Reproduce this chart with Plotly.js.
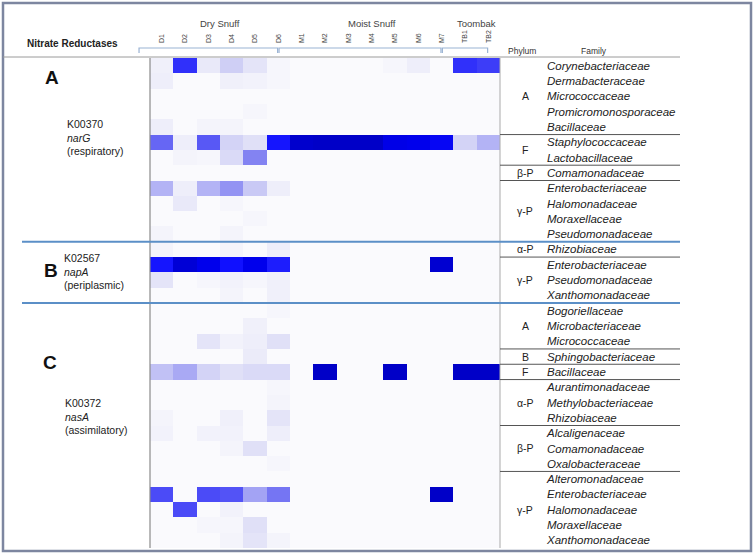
<!DOCTYPE html>
<html>
<head>
<meta charset="utf-8">
<script src="https://cdn.plot.ly/plotly-3.0.1.min.js"></script>
<style>
  body { margin: 0; background: #fff; }
  #chart { width: 755px; height: 554px; }
</style>
</head>
<body>
<div id="chart"></div>
<script>
// Columns (samples)
const samples = ['D1','D2','D3','D4','D5','D6','M1','M2','M3','M4','M5','M6','M7','TB1','TB2'];
const sampleGroups = [
    { name: 'Dry Snuff', first: 0, last: 5 },
    { name: 'Moist Snuff', first: 6, last: 12 },
    { name: 'Toombak', first: 13, last: 14 }
];

// Rows (families) per gene
const familiesA = ['Corynebacteriaceae','Dermabacteraceae','Micrococcaceae','Promicromonosporaceae','Bacillaceae',
    'Staphylococcaceae','Lactobacillaceae','Comamonadaceae','Enterobacteriaceae','Halomonadaceae','Moraxellaceae','Pseudomonadaceae'];
const familiesB = ['Rhizobiaceae','Enterobacteriaceae','Pseudomonadaceae','Xanthomonadaceae'];
const familiesC = ['Bogoriellaceae','Microbacteriaceae','Micrococcaceae','Sphingobacteriaceae','Bacillaceae',
    'Aurantimonadaceae','Methylobacteriaceae','Rhizobiaceae','Alcaligenaceae','Comamonadaceae','Oxalobacteraceae',
    'Alteromonadaceae','Enterobacteriaceae','Halomonadaceae','Moraxellaceae','Xanthomonadaceae'];

// Relative abundance (0..1), D1..D6, M1..M7, TB1, TB2
const narG = [
    [0.05,0.75,0.08,0.20,0.10,0.02, 0,0,0,0,0.02,0.06,0, 0.75,0.70],
    [0.06,0,0,0.05,0.04,0.02, 0,0,0,0,0,0,0, 0,0],
    [0,0,0,0,0,0, 0,0,0,0,0,0,0, 0,0],
    [0,0,0,0,0.02,0, 0,0,0,0,0,0,0, 0,0],
    [0.06,0,0.03,0.03,0,0, 0,0,0,0,0,0,0, 0,0],
    [0.55,0.06,0.60,0.18,0.12,0.85, 0.99,1,1,1,0.93,0.92,0.90, 0.18,0.30],
    [0,0.03,0.02,0.15,0.45,0, 0,0,0,0,0,0,0, 0,0],
    [0,0,0,0,0,0, 0,0,0,0,0,0,0, 0,0],
    [0.30,0.06,0.30,0.40,0.22,0.06, 0,0,0,0,0,0,0, 0,0],
    [0,0.08,0,0.02,0,0, 0,0,0,0,0,0,0, 0,0],
    [0,0,0,0,0.02,0, 0,0,0,0,0,0,0, 0,0],
    [0.03,0,0,0.03,0,0, 0,0,0,0,0,0,0, 0,0]
];
const napA = [
    [0.03,0,0,0.03,0,0.06, 0,0,0,0,0,0,0, 0,0],
    [0.85,0.97,0.92,0.87,0.92,0.82, 0,0,0,0,0,0,0.98, 0,0],
    [0.10,0,0.02,0.04,0.02,0.05, 0,0,0,0,0,0,0, 0,0],
    [0,0,0,0.03,0,0.05, 0,0,0,0,0,0,0, 0,0]
];
const nasA = [
    [0,0,0,0,0,0.02, 0,0,0,0,0,0,0, 0,0],
    [0,0,0,0,0.05,0, 0,0,0,0,0,0,0, 0,0],
    [0,0,0.10,0.04,0.06,0.12, 0,0,0,0,0,0,0, 0,0],
    [0,0,0,0,0.07,0, 0,0,0,0,0,0,0, 0,0],
    [0.25,0.33,0.18,0.12,0.15,0.15, 0,1,0,0,1,0,0, 1,1],
    [0,0,0,0,0,0.02, 0,0,0,0,0,0,0, 0,0],
    [0,0,0,0,0,0.03, 0,0,0,0,0,0,0, 0,0],
    [0.03,0,0,0.05,0,0.10, 0,0,0,0,0,0,0, 0,0],
    [0.04,0,0.04,0.04,0,0.06, 0,0,0,0,0,0,0, 0,0],
    [0,0,0,0.03,0.12,0, 0,0,0,0,0,0,0, 0,0],
    [0,0,0,0,0,0.02, 0,0,0,0,0,0,0, 0,0],
    [0,0,0,0,0,0, 0,0,0,0,0,0,0, 0,0],
    [0.65,0,0.65,0.62,0.35,0.50, 0,0,0,0,0,0,1, 0,0],
    [0,0.65,0,0.04,0,0, 0,0,0,0,0,0,0, 0,0],
    [0,0,0.02,0.02,0.12,0, 0,0,0,0,0,0,0, 0,0],
    [0,0,0,0.03,0.10,0.03, 0,0,0,0,0,0,0, 0,0]
];

// Phylum groups (row index ranges over the full table)
const phyla = [
    { label: 'A', first: 0, last: 4 },
    { label: 'F', first: 5, last: 6 },
    { label: 'β-P', first: 7, last: 7 },
    { label: 'γ-P', first: 8, last: 11 },
    { label: 'α-P', first: 12, last: 12 },
    { label: 'γ-P', first: 13, last: 15 },
    { label: 'A', first: 16, last: 18 },
    { label: 'B', first: 19, last: 19 },
    { label: 'F', first: 20, last: 20 },
    { label: 'α-P', first: 21, last: 23 },
    { label: 'β-P', first: 24, last: 26 },
    { label: 'γ-P', first: 27, last: 31 }
];

// Genes (sections)
const genes = [
    { letter: 'A', ko: 'K00370', name: 'narG', kind: '(respiratory)', rows: familiesA.length },
    { letter: 'B', ko: 'K02567', name: 'napA', kind: '(periplasmic)', rows: familiesB.length },
    { letter: 'C', ko: 'K00372', name: 'nasA', kind: '(assimilatory)', rows: familiesC.length }
];

const z = [...narG, ...napA, ...nasA];
const families = [...familiesA, ...familiesB, ...familiesC];
const nRows = families.length;
const rowIdx = families.map((f, i) => i);
const colIdx = samples.map((s, i) => i);

// Pixel -> paper helpers (plot area: x 150..500, y 58..548)
const W = 755, H = 554;
const L = 150, R = 255, T = 58, B = 6;
const pw = W - L - R, ph = H - T - B;
const px = X => (X - L) / pw;
const py = Y => (H - B - Y) / ph;
const edge = b => 1 - (b + 0.5) / nRows;     // row boundary -> paper y
const colEdge = c => (c + 0.5) / samples.length;

const font = 'Liberation Sans, Arial, sans-serif';
const ink = '#222';

const annotations = [];
const shapes = [];

function note(opts) {
    annotations.push(Object.assign({ showarrow: false, xanchor: 'center', yanchor: 'middle' }, opts));
}

// Frame
shapes.push({ type: 'rect', xref: 'paper', yref: 'paper', x0: px(3), x1: px(751), y0: py(3), y1: py(551),
    line: { color: '#7d86a0', width: 2.5 } });
// Top rule
shapes.push({ type: 'line', xref: 'paper', yref: 'paper', x0: px(3), x1: px(680), y0: py(57), y1: py(57),
    line: { color: '#9a9a9a', width: 1 } });
// Heatmap side rules
shapes.push({ type: 'line', xref: 'paper', yref: 'paper', x0: 0, x1: 0, y0: 0, y1: 1, line: { color: '#8a8a8a', width: 1.2 } });
shapes.push({ type: 'line', xref: 'paper', yref: 'paper', x0: 1, x1: 1, y0: 0, y1: 1, line: { color: '#aaaaaa', width: 1 } });

// Section dividers
let start = 0;
genes.forEach((g, k) => {
    const end = start + g.rows - 1;
    if (k < genes.length - 1) {
        shapes.push({ type: 'line', xref: 'paper', yref: 'paper', x0: px(22), x1: px(680), y0: edge(end + 0.5), y1: edge(end + 0.5),
            line: { color: '#5b8fc7', width: 2 } });
    }
    start = end + 1;
});

// Phylum separators and labels
const sectionEnds = [11, 15, 31];
phyla.forEach(p => {
    note({ xref: 'paper', yref: 'y', x: px(525), y: (p.first + p.last) / 2, text: p.label,
        font: { family: font, size: 10.5, color: ink } });
    if (!sectionEnds.includes(p.last)) {
        shapes.push({ type: 'line', xref: 'paper', yref: 'paper', x0: 1, x1: px(680), y0: edge(p.last + 0.5), y1: edge(p.last + 0.5),
            line: { color: '#555', width: 1 } });
    }
});

// Sample group brackets + titles
sampleGroups.forEach(g => {
    const x0 = colEdge(g.first - 1) + 0.002, x1 = colEdge(g.last) - 0.002;
    shapes.push({ type: 'path', xref: 'paper', yref: 'paper',
        path: `M ${x0} ${py(53)} L ${x0} ${py(48)} L ${x1} ${py(48)} L ${x1} ${py(53)}`,
        line: { color: '#9ab3d3', width: 1.2 } });
    note({ xref: 'x', yref: 'paper', x: (g.first + g.last) / 2, y: py(23), text: g.name,
        font: { family: font, size: 9.5, color: '#444' } });
});

// Left labels
const letterPos = [{ x: 52, y: 77 }, { x: 51, y: 270 }, { x: 50, y: 362 }];
const textPos = [{ x: 65, y: 137 }, { x: 62, y: 271 }, { x: 63, y: 416 }];
genes.forEach((g, k) => {
    note({ xref: 'paper', yref: 'paper', x: px(letterPos[k].x), y: py(letterPos[k].y), text: '<b>' + g.letter + '</b>',
        font: { family: font, size: 19, color: '#111' } });
    note({ xref: 'paper', yref: 'paper', x: px(textPos[k].x), y: py(textPos[k].y), xanchor: 'left', align: 'left',
        text: `${g.ko}<br><i>${g.name}</i><br>${g.kind}`,
        font: { family: font, size: 10.5, color: ink } });
});

// Headers
note({ xref: 'paper', yref: 'paper', x: px(72), y: py(43), text: '<b>Nitrate Reductases</b>',
    font: { family: font, size: 10, color: ink } });
note({ xref: 'paper', yref: 'paper', x: px(522), y: py(51), text: 'Phylum',
    font: { family: font, size: 8.5, color: '#333' } });
note({ xref: 'paper', yref: 'paper', x: px(594), y: py(51), text: 'Family',
    font: { family: font, size: 8.5, color: '#333' } });

const colorscale = [
    [0, '#fafafd'], [0.05, '#f0f0fa'], [0.1, '#e4e4f8'], [0.2, '#cfcff5'], [0.3, '#b3b3f5'],
    [0.45, '#8383f2'], [0.6, '#5858f5'], [0.75, '#3030fa'], [0.87, '#1010ff'], [0.92, '#0000ec'], [1, '#0000c8']
];

Plotly.newPlot('chart', [{
    type: 'heatmap',
    z: z,
    x: colIdx,
    y: rowIdx,
    zmin: 0,
    zmax: 1,
    colorscale: colorscale,
    showscale: false,
    hoverinfo: 'skip'
}], {
    width: W,
    height: H,
    margin: { l: L, r: R, t: T, b: B },
    paper_bgcolor: '#fff',
    plot_bgcolor: '#fff',
    font: { family: font, color: ink },
    xaxis: {
        side: 'top',
        range: [-0.5, samples.length - 0.5],
        tickmode: 'array',
        tickvals: colIdx,
        ticktext: samples,
        tickangle: -90,
        ticks: '',
        ticklabelstandoff: 14,
        tickfont: { family: font, size: 7, color: '#444' },
        showgrid: false,
        zeroline: false,
        showline: false,
        fixedrange: true
    },
    yaxis: {
        side: 'right',
        range: [nRows - 0.5, -0.5],
        tickmode: 'array',
        tickvals: rowIdx,
        ticktext: families,
        ticks: '',
        ticklabelstandoff: 46,
        tickfont: { family: font, size: 11.5, color: ink, style: 'italic' },
        showgrid: false,
        zeroline: false,
        showline: false,
        fixedrange: true
    },
    shapes: shapes,
    annotations: annotations
}, {
    displayModeBar: false,
    staticPlot: true
});
</script>
</body>
</html>
